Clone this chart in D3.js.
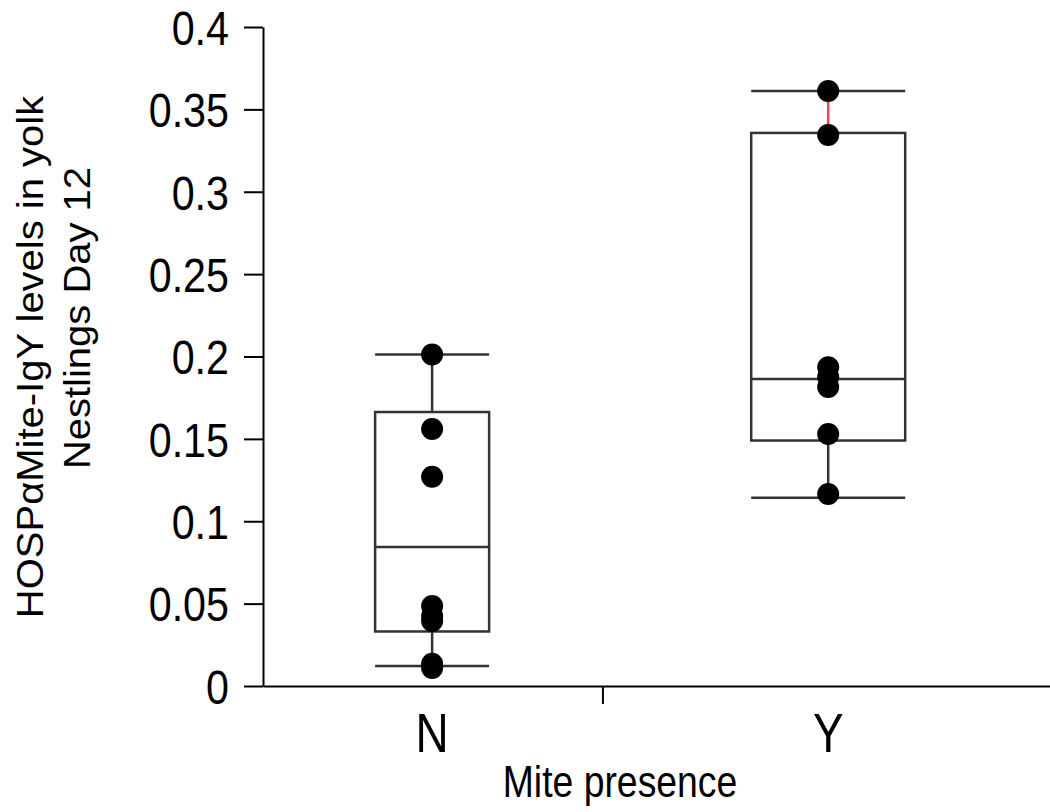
<!DOCTYPE html>
<html>
<head>
<meta charset="utf-8">
<script src="https://cdn.jsdelivr.net/npm/d3@7"></script>
<style>
  html, body { margin: 0; padding: 0; background: #fff; }
  svg { display: block; }
  text { font-family: "Liberation Sans", Arial, Helvetica, sans-serif; fill: #000; }
</style>
</head>
<body>
<svg id="chart" width="1050" height="812"></svg>
<script>
// Box stats (per group)
const groups       = ["N", "Y"];
const whiskerLow   = [0.0121, 0.1143];
const q1           = [0.0331, 0.1490];
const medians      = [0.0844, 0.1863];
const q3           = [0.1663, 0.3357];
const whiskerHigh  = [0.2012, 0.3612];

// Individual points
const pointsN = [0.2012, 0.1560, 0.1270, 0.0485, 0.0425, 0.0395, 0.0135, 0.0110];
const pointsY = [0.3612, 0.3345, 0.1935, 0.1875, 0.1815, 0.1530, 0.1165];

const yTicks = [0, 0.05, 0.1, 0.15, 0.2, 0.25, 0.3, 0.35, 0.4];
const xAxisTicks = [1.43];

// Layout
const AXIS_X = 263, AXIS_Y = 686, TOP_Y = 27, RIGHT_X = 1050;
const BOX_HALF = [57, 77];   // px, box half widths (N is narrower)
const PT_R = 11;
const NARROW = 0.86;         // horizontal squeeze, the figure uses a condensed face

const svg = d3.select("#chart");

const y = d3.scaleLinear().domain([0, 0.4]).range([AXIS_Y, TOP_Y]);
const x = d3.scaleLinear().domain([0.573, 2.56]).range([AXIS_X, RIGHT_X]);

// ===== Y axis =====
const yAxis = svg.append("g")
  .attr("transform", `translate(${AXIS_X},0)`)
  .call(d3.axisLeft(y).tickValues(yTicks).tickSize(19).tickSizeOuter(0).tickPadding(14)
    .tickFormat(d => String(+d.toFixed(2))));
yAxis.select(".domain").attr("stroke", "#000").attr("stroke-width", 2);
yAxis.selectAll(".tick line").attr("stroke", "#000").attr("stroke-width", 2);
yAxis.selectAll(".tick text")
  .attr("font-family", null)
  .attr("font-size", 48).attr("fill", "#000").attr("dy", "0.36em")
  .attr("x", -34 / NARROW)
  .attr("transform", `scale(${NARROW},1)`);

// ===== X axis =====
const xAxis = svg.append("g")
  .attr("transform", `translate(0,${AXIS_Y})`)
  .call(d3.axisBottom(x).tickValues(xAxisTicks).tickSize(18).tickSizeOuter(0).tickFormat(""));
xAxis.select(".domain").attr("stroke", "#000").attr("stroke-width", 2);
xAxis.selectAll(".tick line").attr("stroke", "#000").attr("stroke-width", 2);

svg.append("g").selectAll("text.cat")
  .data(groups)
  .join("text")
  .attr("transform", (d, i) => `translate(${x(i + 1)},752) scale(0.82,1)`)
  .attr("text-anchor", "middle")
  .attr("font-size", 56)
  .text(d => d);

svg.append("text")
  .attr("transform", "translate(620,797) scale(0.83,1)")
  .attr("text-anchor", "middle")
  .attr("font-size", 45)
  .text("Mite presence");

// Y title (two lines, rotated)
svg.append("text")
  .attr("transform", "translate(43,357) rotate(-90) scale(1,0.94)")
  .attr("text-anchor", "middle")
  .attr("font-size", 40)
  .text("HOSPαMite-IgY levels in yolk");
svg.append("text")
  .attr("transform", "translate(90,318) rotate(-90) scale(1,0.94)")
  .attr("text-anchor", "middle")
  .attr("font-size", 40)
  .text("Nestlings Day 12");

// ===== Boxes =====
const stroke = "#333";
const SW = 2.5;
const boxes = svg.append("g").selectAll("g.box")
  .data(groups.map((g, i) => ({ g, i })))
  .join("g").attr("class", "box");

boxes.append("rect")
  .attr("x", d => x(d.i + 1) - BOX_HALF[d.i])
  .attr("y", d => y(q3[d.i]))
  .attr("width", d => 2 * BOX_HALF[d.i])
  .attr("height", d => y(q1[d.i]) - y(q3[d.i]))
  .attr("fill", "none").attr("stroke", stroke).attr("stroke-width", SW);

boxes.append("line")  // median
  .attr("x1", d => x(d.i + 1) - BOX_HALF[d.i])
  .attr("x2", d => x(d.i + 1) + BOX_HALF[d.i])
  .attr("y1", d => y(medians[d.i])).attr("y2", d => y(medians[d.i]))
  .attr("stroke", stroke).attr("stroke-width", SW);

// whiskers (upper whisker of Y is red in the figure)
boxes.append("line")
  .attr("x1", d => x(d.i + 1)).attr("x2", d => x(d.i + 1))
  .attr("y1", d => y(q3[d.i])).attr("y2", d => y(whiskerHigh[d.i]))
  .attr("stroke", d => d.g === "Y" ? "#e8445a" : stroke).attr("stroke-width", SW);
boxes.append("line")
  .attr("x1", d => x(d.i + 1)).attr("x2", d => x(d.i + 1))
  .attr("y1", d => y(q1[d.i])).attr("y2", d => y(whiskerLow[d.i]))
  .attr("stroke", stroke).attr("stroke-width", SW);

// caps
boxes.append("line")
  .attr("x1", d => x(d.i + 1) - BOX_HALF[d.i])
  .attr("x2", d => x(d.i + 1) + BOX_HALF[d.i])
  .attr("y1", d => y(whiskerHigh[d.i])).attr("y2", d => y(whiskerHigh[d.i]))
  .attr("stroke", stroke).attr("stroke-width", SW);
boxes.append("line")
  .attr("x1", d => x(d.i + 1) - BOX_HALF[d.i])
  .attr("x2", d => x(d.i + 1) + BOX_HALF[d.i])
  .attr("y1", d => y(whiskerLow[d.i])).attr("y2", d => y(whiskerLow[d.i]))
  .attr("stroke", stroke).attr("stroke-width", SW);

// ===== Points =====
const pts = [].concat(
  pointsN.map(v => ({ i: 0, v })),
  pointsY.map(v => ({ i: 1, v }))
);
svg.append("g").selectAll("circle")
  .data(pts)
  .join("circle")
  .attr("cx", d => x(d.i + 1))
  .attr("cy", d => y(d.v))
  .attr("r", PT_R)
  .attr("fill", "#000");
</script>
</body>
</html>
